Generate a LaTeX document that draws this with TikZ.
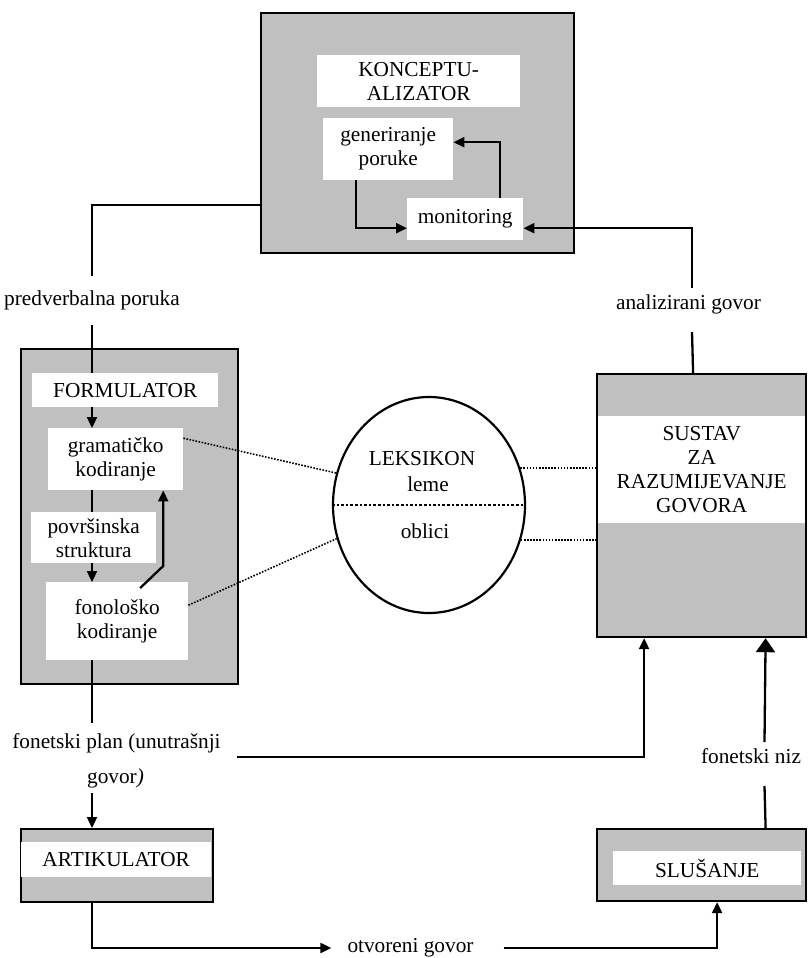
\documentclass[tikz,border=0pt]{standalone}
\usepackage{fontspec}
\setmainfont{Liberation Serif}
\usepackage{xcolor}
\usetikzlibrary{positioning, arrows.meta, shapes.geometric}
\definecolor{boxgray}{RGB}{192,192,192}

\begin{document}
\begin{tikzpicture}[
  x=1pt, y=-1pt,
  > = {Triangle[length=11pt, width=10pt]},
  font=\fontsize{21.3}{24}\selectfont,
  unit/.style={draw, line width=2.2pt, fill=boxgray, anchor=north west, inner sep=0pt},
  inbox/.style={fill=white, anchor=north west, inner sep=0pt, align=center},
  lbl/.style={inner sep=0pt, align=center},
  conn/.style={line width=2.3pt},
  arr/.style={->, line width=2.3pt},
  bigarr/.style={-{Triangle[length=14pt, width=19pt]}, line width=2.3pt},
  dots/.style={line width=1.6pt, dash pattern=on 1.6pt off 1.5pt},
  divider/.style={line width=2.6pt, dash pattern=on 2.6pt off 2pt}
]
  \useasboundingbox (0,0) rectangle (807,958);

  % --- conceptualizer ---
  \node[unit, minimum width=313pt, minimum height=240pt] (konc) at (260,12) {};
  \node[inbox, minimum width=203pt, minimum height=52pt] (konctitle) at (317,55) {KONCEPTU-\\ALIZATOR};
  \node[inbox, minimum width=130pt, minimum height=62pt] (gen) at (323,118) {generiranje\\poruke};
  \node[inbox, minimum width=116pt, minimum height=42pt] (mon) at (407,198) {monitoring};

  % --- formulator ---
  \node[unit, minimum width=217pt, minimum height=335pt] (form) at (20,348) {};
  \node[inbox, minimum width=186pt, minimum height=34pt] (formtitle) at (32,373) {FORMULATOR};
  \node[inbox, minimum width=135pt, minimum height=62pt] (gram) at (48,428) {gramatičko\\kodiranje};
  \node[inbox, minimum width=125pt, minimum height=51pt] (povr) at (31,512) {površinska\\struktura};
  \node[inbox, minimum width=142pt, minimum height=78pt] (fonol) at (46,582) {fonološko\\kodiranje};

  % --- lexicon ---
  \node[draw, ellipse, line width=2.2pt, minimum width=192pt, minimum height=216pt] (leks) at (429,505) {};
  \node[lbl] (lekstitle) at (422,459) {LEKSIKON};
  \node[lbl] (leme) at (428,484) {leme};
  \node[lbl] (oblici) at (425,531) {oblici};

  % --- comprehension, articulator, audition ---
  \node[unit, minimum width=209pt, minimum height=263pt] (sustav) at (596,373) {};
  \node[inbox, minimum width=207pt, minimum height=107pt] (sustavtxt) at (598,416) {SUSTAV\\ZA\\RAZUMIJEVANJE\\GOVORA};
  \node[unit, minimum width=192pt, minimum height=73pt] (artik) at (20,828) {};
  \node[inbox, minimum width=190pt, minimum height=35pt] (artiktxt) at (21,842) {ARTIKULATOR};
  \node[unit, minimum width=209pt, minimum height=72pt] (slus) at (596,828) {};
  \node[inbox, minimum width=188pt, minimum height=34pt] (slustxt) at (613,851) {SLUŠANJE};

  % --- connector labels ---
  \node[lbl] (predverb) at (92,300) {predverbalna poruka};
  \node[lbl] (fonplan) at (116.5,743) {fonetski plan (unutrašnji};
  \node[lbl] (fongovor) at (115.5,778) {govor\textit{)}};
  \node[lbl] (analiz) at (688.5,304) {analizirani govor};
  \node[lbl] (fonniz) at (751,756) {fonetski niz};
  \node[lbl] (otvgov) at (410.5,948) {otvoreni govor};

  % --- loop inside the conceptualizer ---
  \draw[arr] ([xshift=-32pt]gen.south) |- ([yshift=-9pt]mon.west);
  \draw[arr] ([xshift=35pt]mon.north) |- ([yshift=7pt]gen.east);

  % --- left column ---
  \draw[conn] ([yshift=-72pt]konc.west) -| ([yshift=24pt]predverb.center);
  \draw[conn] ([yshift=-25pt]predverb.center) -- (formtitle.north -| predverb);
  \draw[arr] (formtitle.south -| predverb) -- (gram.north -| predverb);
  \draw[conn] (gram.south -| predverb) -- (povr.north -| predverb);
  \draw[arr] (povr.south -| predverb) -- (fonol.north -| predverb);
  \draw[arr] ([xshift=23pt, yshift=-6pt]fonol.north) -- ([xshift=46pt, yshift=16pt]fonol.north)
    -- ([xshift=47.5pt]gram.south);
  \draw[conn] (fonol.south -| predverb) -- ([yshift=20pt]fonplan.center -| predverb);
  \draw[arr] ([yshift=-15pt]fongovor.center -| predverb) -- (artik.north -| predverb);
  \draw[arr] (artik.south -| predverb) |- ([xshift=-16pt]otvgov.west);

  % --- right column ---
  \draw[arr] ([xshift=16pt, yshift=-14pt]fonplan.east) -| ([xshift=-57.5pt]sustav.south);
  \draw[arr] ([xshift=30pt]otvgov.east) -| ([xshift=15.5pt]slus.south);
  \draw[conn] ([xshift=64pt]slus.north) -- ([xshift=13.5pt, yshift=-30pt]fonniz.center);
  \draw[bigarr] ([xshift=13.5pt, yshift=14pt]fonniz.center) -- ([xshift=64pt]sustav.south);
  \draw[conn] ([xshift=-8.5pt]sustav.north) -- ([xshift=3.5pt, yshift=-28pt]analiz.center);
  \draw[arr] ([xshift=3.5pt, yshift=16pt]analiz.center) |- ([yshift=-9pt]mon.east);

  % --- lexicon links ---
  \draw[divider] (leks.west) -- (leks.east);
  \draw[dots] ([yshift=21pt]gram.east) -- (leks.161);
  \draw[dots] ([yshift=16pt]fonol.east) -- (leks.200);
  \draw[dots] (leks.22) -- (leks.22 -| sustav.west);
  \draw[dots] (leks.339) -- (leks.339 -| sustav.west);
\end{tikzpicture}
\end{document}
